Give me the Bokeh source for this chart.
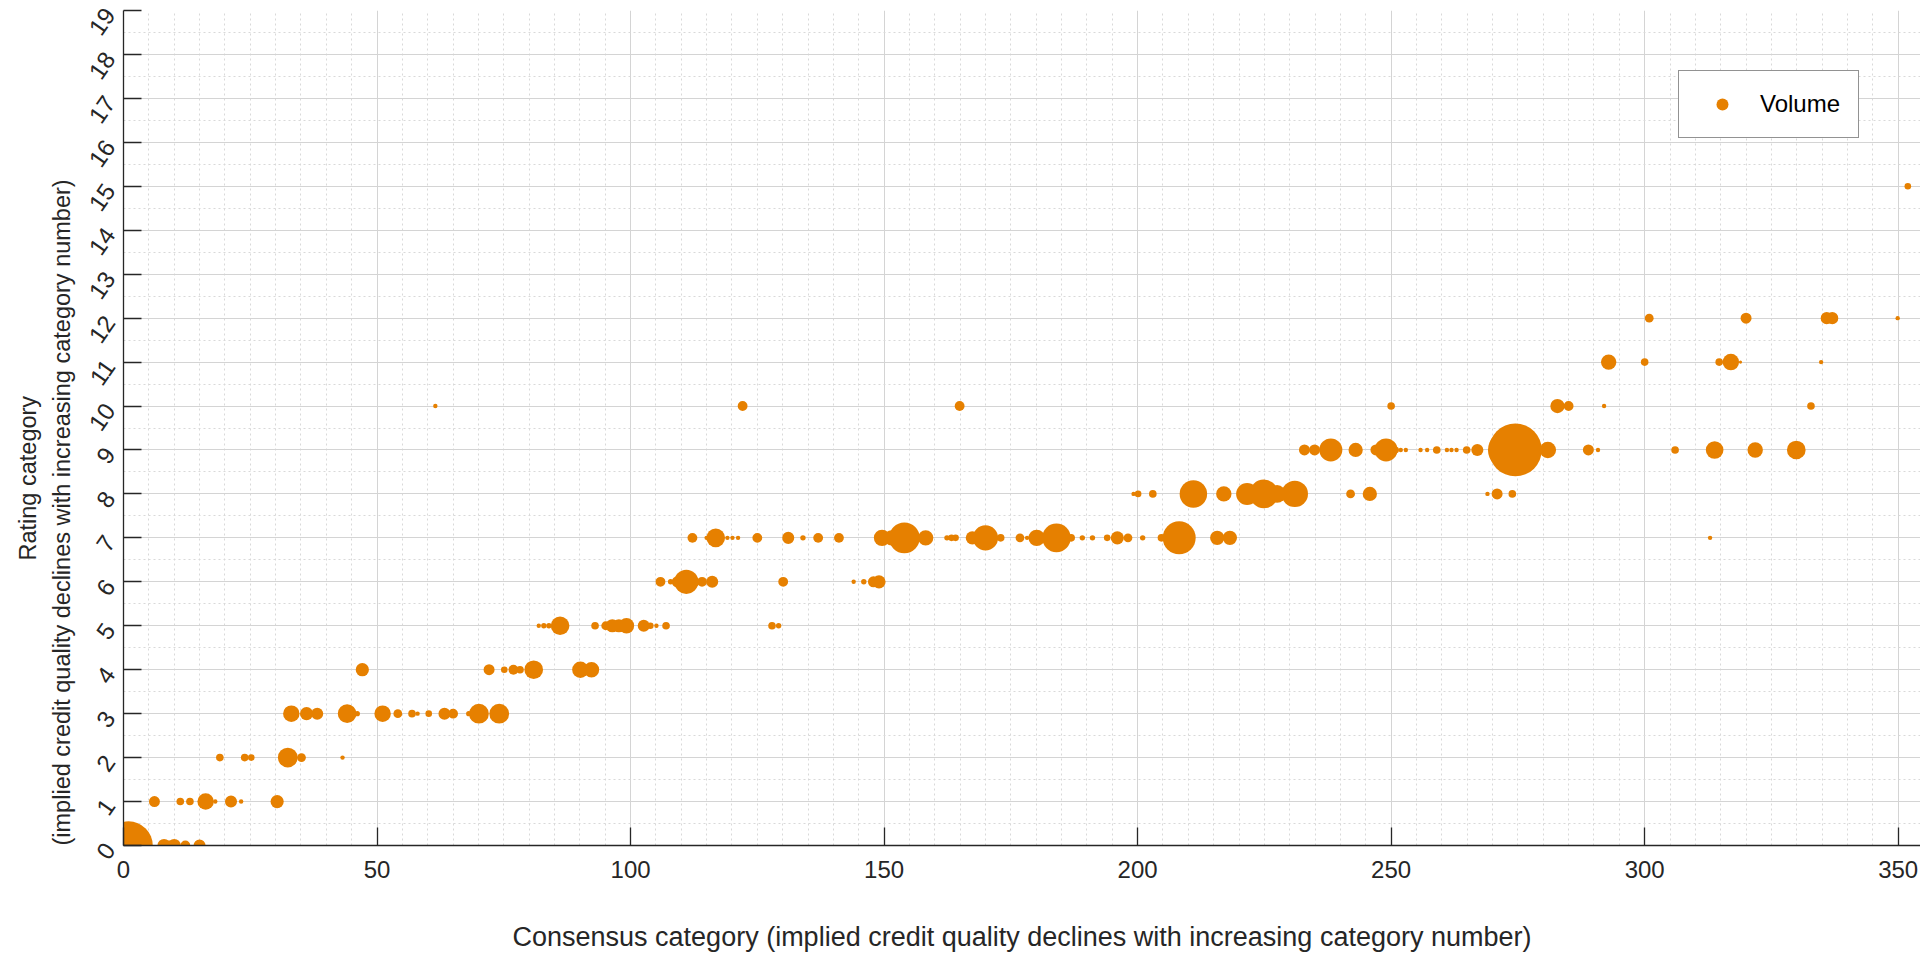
import math
from bokeh.plotting import figure
from bokeh.models import (ColumnDataSource, SingleIntervalTicker, Legend,
                          LegendItem, Range1d, Title)
from bokeh.embed import file_html
from bokeh.resources import INLINE

# ---------------- data ----------------
# consensus category (x), rating category (row) and volume (bubble area, relative units)
row0_x = [1, 8, 9, 10, 12.2, 15]
row0_v = [484, 36, 20, 36, 20, 30]
row1_x = [6.1, 11.2, 13.1, 16.2, 18.1, 21.2, 23.2, 30.3]
row1_v = [25, 12, 12, 56, 4, 30, 4, 36]
row2_x = [19, 23.9, 25.2, 32.4, 35.1, 43.2]
row2_v = [12, 12, 9, 81, 16, 4]
row3_x = [33.1, 36.1, 38.2, 44.1, 46.1, 51.1, 54.1, 56.9, 58.0, 60.2, 63.3, 65.0, 68.1, 70.1, 74.1]
row3_v = [56, 36, 30, 72, 6, 56, 16, 12, 4, 9, 30, 20, 6, 81, 81]
row4_x = [47.1, 72.1, 75.1, 76.9, 78.2, 80.9, 90.1, 92.3]
row4_v = [36, 25, 9, 20, 12, 72, 56, 49]
row5_x = [81.9, 82.9, 83.9, 86.1, 93.0, 95.1, 96.4, 97.7, 99.2, 102.6, 103.9, 105.1, 107.0, 127.9, 129.2]
row5_v = [4, 6, 6, 72, 12, 16, 36, 36, 49, 30, 9, 4, 12, 12, 6]
row6_x = [105.9, 107.9, 109.2, 111.0, 112.5, 114.1, 116.1, 130.1, 144.0, 146.0, 147.9, 149.0]
row6_v = [20, 6, 25, 121, 25, 20, 30, 20, 4, 6, 25, 36]
row7_x = [112.2, 115.0, 116.8, 119.1, 120.1, 121.2, 125.0, 131.1, 134.0, 137.0, 141.1,
          149.6, 151.5, 154.0, 158.2, 162.4, 163.3, 164.1, 167.4, 170.0, 173.0, 176.8,
          178.2, 180.1, 184.0, 186.9, 189.1, 191.1, 194.0, 196.0, 198.1, 201.0, 204.7,
          208.2, 215.7, 218.2, 312.9]
row7_v = [20, 4, 72, 4, 4, 4, 20, 30, 6, 20, 20,
          56, 49, 196, 49, 6, 9, 9, 36, 132, 12, 16,
          4, 56, 169, 12, 6, 6, 9, 36, 16, 6, 12,
          225, 42, 42, 4]
row8_x = [199.2, 200.1, 203.0, 211.0, 217.0, 221.6, 224.9, 227.5, 231.0, 242.0, 245.8, 269.0, 270.9, 273.9]
row8_v = [4, 9, 12, 156, 49, 100, 169, 64, 144, 16, 42, 4, 25, 12]
row9_x = [232.9, 234.9, 238.1, 243.0, 247.0, 249.0, 250.9, 251.9, 252.9, 255.8, 257.1, 259.0,
          261.0, 261.9, 262.9, 264.9, 267.0, 273.0, 274.5, 280.9, 288.9, 290.8, 306.0,
          313.8, 321.8, 329.9]
row9_v = [25, 25, 110, 42, 25, 110, 9, 4, 4, 4, 4, 12,
          4, 4, 4, 12, 30, 324, 576, 56, 25, 4, 12,
          64, 49, 72]
row10_x = [61.5, 122.1, 164.9, 250.0, 282.8, 285.0, 292.0, 332.8]
row10_v = [4, 20, 20, 12, 42, 20, 4, 12]
row11_x = [292.9, 300.0, 314.7, 317.0, 318.9, 334.8]
row11_v = [49, 12, 12, 56, 2, 4]
row12_x = [300.9, 320.0, 335.9, 337.0, 349.9]
row12_v = [16, 25, 30, 30, 4]
row15_x = [351.9]
row15_v = [9]

rows = [(0, row0_x, row0_v), (1, row1_x, row1_v), (2, row2_x, row2_v),
        (3, row3_x, row3_v), (4, row4_x, row4_v), (5, row5_x, row5_v),
        (6, row6_x, row6_v), (7, row7_x, row7_v), (8, row8_x, row8_v),
        (9, row9_x, row9_v), (10, row10_x, row10_v), (11, row11_x, row11_v),
        (12, row12_x, row12_v), (15, row15_x, row15_v)]

x_label = "Consensus category (implied credit quality declines with increasing category number)"
y_label_1 = "Rating category"
y_label_2 = "(implied credit quality declines with increasing category number)"

consensus, rating, volume = [], [], []
for r, xs, vs in rows:
    consensus += xs
    rating += [r] * len(xs)
    volume += vs

diam = [2.2 * math.sqrt(v) for v in volume]
src = ColumnDataSource(dict(x=consensus, y=rating, d=diam))

# ---------------- figure ----------------
FONT = "Liberation Sans"
DARK = "#262626"

p = figure(width=1920, height=957, output_backend="svg", toolbar_location=None,
           x_range=Range1d(0, 354.4), y_range=Range1d(0, 19),
           min_border_left=123, min_border_right=0, min_border_top=10,
           min_border_bottom=112)
p.outline_line_color = None
p.background_fill_color = "white"
p.border_fill_color = "white"

p.xaxis.ticker = SingleIntervalTicker(interval=50, num_minor_ticks=10)
p.yaxis.ticker = SingleIntervalTicker(interval=1, num_minor_ticks=2)

for ax in (p.xaxis, p.yaxis):
    ax.major_tick_in = 18
    ax.major_tick_out = 0
    ax.minor_tick_line_color = None
    ax.axis_line_color = DARK
    ax.axis_line_width = 1.3
    ax.major_tick_line_color = DARK
    ax.major_tick_line_width = 1.3
    ax.major_label_text_font = FONT
    ax.major_label_text_font_size = "24px"
    ax.major_label_text_color = DARK
    ax.axis_label_text_font = FONT
    ax.axis_label_text_font_style = "normal"
    ax.axis_label_text_color = DARK

p.xaxis.major_label_standoff = 11
p.xaxis.axis_label = x_label
p.xaxis.axis_label_text_font_size = "27px"
p.xaxis.axis_label_standoff = 41

p.yaxis.major_label_orientation = math.radians(55)
p.yaxis.major_label_standoff = 10

# two-line y axis title, placed as side titles (nearest to the axis first)
for txt, off in ((y_label_2, 0), (y_label_1, 285)):
    p.add_layout(Title(text=txt, align="left", offset=off, standoff=6,
                       vertical_align="bottom", text_font=FONT,
                       text_font_size="23.5px", text_font_style="normal",
                       text_color=DARK), "left")

for g in (p.xgrid, p.ygrid):
    g.grid_line_color = "#d4d4d4"
    g.grid_line_width = 1
    g.minor_grid_line_color = "#d9d9d9"
    g.minor_grid_line_dash = "2 3"
    g.minor_grid_line_width = 1

r = p.scatter("x", "y", size="d", source=src, fill_color="#E68000",
              line_color=None, marker="circle")

legend = Legend(items=[LegendItem(label="Volume", renderers=[r])],
                location=(1555, 707))
legend.padding = 18
legend.margin = 0
legend.glyph_width = 50
legend.glyph_height = 30
legend.label_standoff = 13
legend.label_text_font = FONT
legend.label_text_font_size = "24px"
legend.label_text_color = "black"
legend.border_line_color = DARK
legend.border_line_width = 1
legend.background_fill_color = "white"
legend.background_fill_alpha = 1
p.add_layout(legend)

open("out.html", "w").write(file_html(p, INLINE))
